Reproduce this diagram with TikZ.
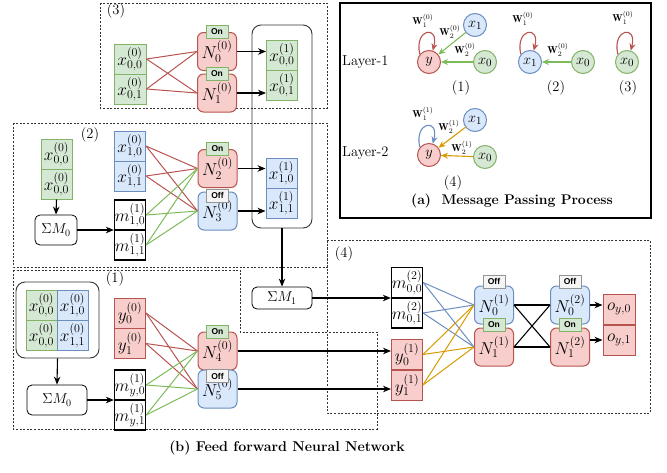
\documentclass[tikz,border=0pt]{standalone}
\usepackage{fontspec}
\newfontfamily\labfont{Liberation Sans}
\usetikzlibrary{arrows.meta,calc}
\definecolor{gfill}{HTML}{D5E8D4}\definecolor{gline}{HTML}{82B366}
\definecolor{bfill}{HTML}{DAE8FC}\definecolor{bline}{HTML}{6C8EBF}
\definecolor{rfill}{HTML}{F8CECC}\definecolor{rline}{HTML}{B85450}
\definecolor{ofill}{HTML}{F5F5F5}\definecolor{oline}{HTML}{666666}
\definecolor{amber}{HTML}{D79B00}
\definecolor{glink}{HTML}{7DBB5A}
\newcommand\mfs{\fontsize{18}{20}\selectfont}
\newcommand\cfs{\fontsize{15.5}{17}\selectfont}
\newcommand\sfs{\fontsize{14}{16}\selectfont}
\newcommand\wfs{\fontsize{10}{11}\selectfont}
\begin{document}
\begin{tikzpicture}[x=1pt,y=-1pt,
  cell/.style={draw, minimum width=31pt, minimum height=30pt, inner sep=0pt, line width=1pt, font=\mfs},
  gc/.style={cell, draw=gline, fill=gfill},
  bc/.style={cell, draw=bline, fill=bfill},
  rc/.style={cell, draw=rline, fill=rfill},
  kc/.style={cell, draw=black, fill=white, line width=1.3pt},
  neuron/.style={draw, rounded corners=6pt, minimum width=39pt, minimum height=38pt, inner sep=0pt, line width=1pt, font=\mfs},
  rn/.style={neuron, draw=rline, fill=rfill},
  bn/.style={neuron, draw=bline, fill=bfill},
  onlab/.style={draw=gline, fill=gfill, line width=0.8pt, minimum width=22pt, minimum height=13pt, inner sep=0pt, font=\labfont\bfseries\fontsize{8.5}{9}\selectfont},
  offlab/.style={onlab, draw=oline!70, fill=ofill},
  sumbox/.style={draw, rounded corners=5pt, line width=0.8pt, minimum height=30pt, inner sep=0pt, font=\sfs},
  cont/.style={draw=black!80, rounded corners=9pt, line width=0.9pt},
  region/.style={draw=black!80, line width=0.7pt, dash pattern=on 2pt off 1.6pt},
  arr/.style={-{Stealth[length=8pt,width=6.5pt]}, line width=1.1pt},
  rl/.style={draw=rline, line width=1pt},
  gl/.style={draw=glink, line width=1pt},
  bl/.style={draw=bline, line width=1pt},
  ol/.style={draw=amber, line width=1pt},
  circ/.style={circle, draw, line width=1pt, minimum size=23pt, inner sep=0pt, font=\cfs},
  gci/.style={circ, draw=gline, fill=gfill},
  bci/.style={circ, draw=bline, fill=bfill},
  rci/.style={circ, draw=rline, fill=rfill},
  sarr/.style={-{Stealth[length=7pt,width=6pt]}, line width=1.1pt},
  wl/.style={font=\wfs, inner sep=0pt},
  txt/.style={font=\fontsize{14.5}{16}\selectfont, inner sep=0pt}
]
\useasboundingbox (0,0) rectangle (667,472);

% ---------- regions ----------
\path[region] (100,3) rectangle (327,108);
\path[region] (13,123) rectangle (327,267);
\path[region] (13,270) -- (240,270) -- (240,332) -- (377,332) -- (377,429) -- (13,429) -- cycle;
\path[region] (327,240) rectangle (650,413);
\node[txt] (l3) at (116,11) {(3)};
\node[txt] (l2) at (90,135) {(2)};
\node[txt] (l1) at (115,279) {(1)};
\node[txt] (l4) at (344,254) {(4)};

% ---------- region 3 ----------
\node[cont, minimum width=60pt, minimum height=203pt] (c3) at (282,126.5) {};
\node[gc, minimum width=32pt] (a00) at (130,59) {$x^{(0)}_{0,0}$};
\node[gc, minimum width=32pt] (a01) at (130,89) {$x^{(0)}_{0,1}$};
\node[rn] (n0) at (217,51.5) {$N^{(0)}_0$};
\node[rn] (n1) at (217,93) {$N^{(0)}_1$};
\node[gc] (b00) at (282,55) {$x^{(1)}_{0,0}$};
\node[gc] (b01) at (282,85) {$x^{(1)}_{0,1}$};
\foreach \s in {a00,a01}{\foreach \t in {n0,n1}{\draw[rl] (\s.east) -- (\t.west);}}
\draw[arr] (n0.east) -- (n0.east -| b00.west);
\draw[arr] (n1.east) -- (n1.east -| b01.west);
\node[onlab] (on0) at (n0.north) {On};
\node[onlab] (on1) at (n1.north) {On};

% ---------- region 2 ----------
\node[gc] (g0) at (56.5,154) {$x^{(0)}_{0,0}$};
\node[gc] (g1) at (56.5,184) {$x^{(0)}_{0,0}$};
\node[sumbox, minimum width=42pt] (s0) at (56,230) {$\Sigma M_0$};
\draw[arr] (g1.south) -- (s0.north);
\node[bc] (x10) at (130,146) {$x^{(0)}_{1,0}$};
\node[bc] (x11) at (130,176) {$x^{(0)}_{1,1}$};
\node[kc] (m10) at (130,215) {$m^{(1)}_{1,0}$};
\node[kc] (m11) at (130,245) {$m^{(1)}_{1,1}$};
\draw[arr] (s0.east) -- (s0.east -| m10.west);
\node[rn] (n2) at (217.5,168.5) {$N^{(0)}_2$};
\node[bn] (n3) at (217.5,211) {$N^{(0)}_3$};
\node[bc] (b10) at (281.5,173) {$x^{(1)}_{1,0}$};
\node[bc] (b11) at (281.5,203) {$x^{(1)}_{1,1}$};
\foreach \s in {x10,x11}{\foreach \t in {n2,n3}{\draw[rl] (\s.east) -- (\t.west);}}
\foreach \s in {m10,m11}{\foreach \t in {n2,n3}{\draw[gl] (\s.east) -- (\t.west);}}
\draw[arr] (n2.east) -- (n2.east -| b10.west);
\draw[arr] (n3.east) -- (n3.east -| b11.west);
\node[onlab] (on2) at (n2.north) {On};
\node[offlab] (off3) at ($(n3.north)+(0,4)$) {Off};

% ---------- sum M1 ----------
\node[sumbox, minimum width=60pt, minimum height=22pt] (s1) at (282,298) {$\Sigma M_1$};
\draw[arr] (c3.south) -- (s1.north);

% ---------- region 1 ----------
\node[cont, minimum width=83pt, minimum height=76pt] (c1) at (57.5,320) {};
\node[gc] (p00) at (41.5,305) {$x^{(0)}_{0,0}$};
\node[gc] (p01) at (41.5,335.5) {$x^{(0)}_{0,0}$};
\node[bc] (p10) at (72.5,305) {$x^{(0)}_{1,0}$};
\node[bc] (p11) at (72.5,335.5) {$x^{(0)}_{1,1}$};
\node[sumbox, minimum width=60pt] (s2) at (57,400) {$\Sigma M_0$};
\draw[arr] (c1.south) -- (s2.north);
\node[rc] (y0) at (130,313) {$y^{(0)}_0$};
\node[rc] (y1) at (130,343.5) {$y^{(0)}_1$};
\node[kc] (my0) at (130,385) {$m^{(1)}_{y,0}$};
\node[kc] (my1) at (130,415) {$m^{(1)}_{y,1}$};
\draw[arr] (s2.east) -- (s2.east -| my0.west);
\node[rn] (n4) at (217.5,351) {$N^{(0)}_4$};
\node[bn] (n5) at (217.5,389) {$N^{(0)}_5$};
\foreach \s in {y0,y1}{\foreach \t in {n4,n5}{\draw[rl] (\s.east) -- (\t.west);}}
\foreach \s in {my0,my1}{\foreach \t in {n4,n5}{\draw[gl] (\s.east) -- (\t.west);}}
\node[onlab] (on4) at (n4.north) {On};
\node[offlab] (off5) at ($(n5.north)+(0,6.5)$) {Off};

% ---------- region 4 ----------
\node[kc] (m200) at (407,282.5) {$m^{(2)}_{0,0}$};
\node[kc] (m201) at (407,313) {$m^{(2)}_{0,1}$};
\draw[arr] (s1.east) -- (s1.east -| m200.west);
\node[rc] (yy0) at (407,354.5) {$y^{(1)}_0$};
\node[rc] (yy1) at (407,385) {$y^{(1)}_1$};
\draw[arr] (n4.east) -- (n4.east -| yy0.west);
\draw[arr] (n5.east) -- (n5.east -| yy1.west);
\node[bn] (q0) at (494,305) {$N^{(1)}_0$};
\node[rn] (q1) at (494,347) {$N^{(1)}_1$};
\node[bn] (r0) at (570,305) {$N^{(2)}_0$};
\node[rn] (r1) at (570,347) {$N^{(2)}_1$};
\node[rc, minimum width=32pt] (o0) at (619,309) {$o_{y,0}$};
\node[rc, minimum width=32pt] (o1) at (619,340) {$o_{y,1}$};
\foreach \s in {m200,m201}{\foreach \t in {q0,q1}{\draw[bl] (\s.east) -- (\t.west);}}
\foreach \s in {yy0,yy1}{\foreach \t in {q0,q1}{\draw[ol] (\s.east) -- (\t.west);}}
\foreach \s in {q0,q1}{\foreach \t in {r0,r1}{\draw[line width=1.1pt] (\s.east) -- (\t.west);}}
\draw[arr] (r0.east) -- (r0.east -| o0.west);
\draw[arr] (o1.west -| r1.east) -- (o1.west);
\node[offlab] (offq0) at ($(q0.north)+(0,-4)$) {Off};
\node[onlab] (onq1) at ($(q1.north)+(0,-3)$) {On};
\node[offlab] (offr0) at ($(r0.north)+(0,-4)$) {Off};
\node[onlab] (onr1) at ($(r1.north)+(0,-3)$) {On};

% ---------- panel (a) ----------
\draw[line width=1.2pt] (340,3) rectangle (651,218);
\node[txt, anchor=west] (lay1) at (342,62) {Layer-1};
\node[txt, anchor=west] (lay2) at (342,153) {Layer-2};
% group 1
\node[rci] (ay) at (429,62) {$y$};
\node[bci] (ax1) at (475,25) {$x_1$};
\node[gci] (ax0) at (485,62) {$x_0$};
\draw[sarr, glink] (ax1) -- (ay);
\draw[sarr, glink] (ax0) -- (ay);
\draw[sarr, rline] (ay.140) .. controls +(-6,-26) and +(7,-26) .. (ay.72);
\node[wl] (w11) at (423,21) {$\mathbf{W}^{(0)}_1$};
\node[wl] (w12) at (450,32) {$\mathbf{W}^{(0)}_2$};
\node[wl] (w13) at (465,50) {$\mathbf{W}^{(0)}_2$};
\node[txt] (g1) at (461,88) {(1)};
% group 2
\node[bci] (bx1) at (530,62) {$x_1$};
\node[gci] (bx0) at (583,62) {$x_0$};
\draw[sarr, glink] (bx0) -- (bx1);
\draw[sarr, rline] (bx1.140) .. controls +(-6,-26) and +(7,-26) .. (bx1.72);
\node[wl] (w21) at (523,19) {$\mathbf{W}^{(0)}_1$};
\node[wl] (w22) at (558,50) {$\mathbf{W}^{(0)}_2$};
\node[txt] (g2) at (556,88) {(2)};
% group 3
\node[gci] (cx0) at (627,62) {$x_0$};
\draw[sarr, rline] (cx0.140) .. controls +(-6,-26) and +(7,-26) .. (cx0.72);
\node[wl] (w31) at (623,18) {$\mathbf{W}^{(0)}_1$};
\node[txt] (g3) at (628,88) {(3)};
% group 4
\node[rci] (dy) at (429,155) {$y$};
\node[bci] (dx1) at (475,120) {$x_1$};
\node[gci] (dx0) at (485,157) {$x_0$};
\draw[sarr, amber] (dx1) -- (dy);
\draw[sarr, amber] (dx0) -- (dy);
\draw[sarr, bline] (dy.140) .. controls +(-6,-26) and +(7,-26) .. (dy.72);
\node[wl] (w41) at (423,114) {$\mathbf{W}^{(1)}_1$};
\node[wl] (w42) at (449,127) {$\mathbf{W}^{(1)}_2$};
\node[wl] (w43) at (462,148) {$\mathbf{W}^{(1)}_2$};
\node[txt] (g4) at (453,183) {(4)};
\node[font=\bfseries\fontsize{14}{16}\selectfont, inner sep=0pt] (ta) at (512,201) {(a)\ \ Message Passing Process};

% ---------- caption ----------
\node[font=\bfseries\fontsize{14.2}{16}\selectfont, inner sep=0pt] (tb) at (287,448) {(b) Feed forward Neural Network};
\end{tikzpicture}
\end{document}
